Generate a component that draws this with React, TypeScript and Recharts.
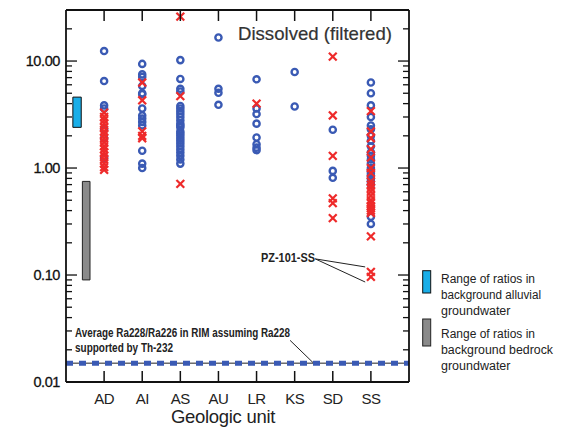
import React from 'react';
import { ScatterChart, Scatter, XAxis, YAxis, ReferenceLine, ReferenceArea } from 'recharts';

const categories = ['AD', 'AI', 'AS', 'AU', 'LR', 'KS', 'SD', 'SS'];
const categoryTicks = [1, 2, 3, 4, 5, 6, 7, 8];

// Blue circles per geologic unit
const circleAD = [12.4, 6.5, 3.85, 3.6, 2.3, 1.9, 1.25];
const circleAI = [9.4, 7.5, 7.1, 5.85, 5.0, 4.9, 3.6, 3.1, 2.9, 2.7, 2.5, 1.45, 1.1, 1.0];
const circleAS = [10.2, 6.8, 5.5, 5.2, 3.8, 3.6, 3.4, 3.2, 3.0, 2.8, 2.6, 2.5, 2.4, 2.2, 2.1, 2.0, 1.9, 1.8, 1.7, 1.6, 1.5, 1.4, 1.3, 1.2, 1.1];
const circleAU = [16.6, 5.5, 5.05, 3.9];
const circleLR = [6.75, 3.6, 3.2, 2.6, 1.93, 1.67, 1.55, 1.47];
const circleKS = [7.9, 3.76];
const circleSD = [2.28, 0.94, 0.81];
const circleSS = [6.3, 5.0, 3.85, 3.0, 2.5, 2.3, 2.0, 1.8, 1.6, 1.4, 1.3, 1.2, 1.1, 1.0, 0.95, 0.9, 0.85, 0.8, 0.75, 0.7, 0.35, 0.3];

// Red crosses per geologic unit
const crossAD = [3.3, 3.0, 2.8, 2.6, 2.4, 2.2, 2.05, 1.9, 1.75, 1.6, 1.5, 1.4, 1.3, 1.2, 1.1, 1.02, 0.96];
const crossAI = [6.3, 4.3, 2.2, 2.0, 1.9];
const crossAS = [26, 4.7, 0.71];
const crossAU: number[] = [];
const crossLR = [4.0];
const crossKS: number[] = [];
const crossSD = [11, 3.1, 1.3, 0.52, 0.47, 0.34];
const crossSS = [3.4, 2.2, 1.9, 1.5, 1.25, 1.0, 0.9, 0.75, 0.7, 0.65, 0.6, 0.55, 0.5, 0.47, 0.44, 0.42, 0.4, 0.38, 0.23, 0.107, 0.096];

const circleGroups = [circleAD, circleAI, circleAS, circleAU, circleLR, circleKS, circleSD, circleSS];
const crossGroups = [crossAD, crossAI, crossAS, crossAU, crossLR, crossKS, crossSD, crossSS];

const alluvialRange = [2.4, 4.6];
const bedrockRange = [0.09, 0.75];
const rimAverage = 0.015;

const yMajorTicks = [0.01, 0.1, 1, 10];
const yTickLabels = ['0.01', '0.10', '1.00', '10.00'];
const yMinorTicks = [0.02, 0.03, 0.04, 0.05, 0.06, 0.07, 0.08, 0.09, 0.2, 0.3, 0.4, 0.5, 0.6, 0.7, 0.8, 0.9, 2, 3, 4, 5, 6, 7, 8, 9, 20];
const yAllTicks = [...yMajorTicks, ...yMinorTicks].sort((a, b) => a - b);

const circleData = circleGroups.flatMap((vals, i) => vals.map((v) => ({ x: categoryTicks[i], y: v })));
const crossData = crossGroups.flatMap((vals, i) => vals.map((v) => ({ x: categoryTicks[i], y: v })));

const BLUE = '#3a5ab4';
const RED = '#ee2a2a';
const FONT = '"Liberation Sans", Arial, sans-serif';

const CircleMark = (props: any) => {
  const { cx, cy } = props;
  if (cx == null || cy == null) return null;
  return <circle cx={cx} cy={cy} r={3.1} fill="none" stroke={BLUE} strokeWidth={2.4} />;
};

const CrossMark = (props: any) => {
  const { cx, cy } = props;
  if (cx == null || cy == null) return null;
  const s = 3.9;
  return (
    <g stroke={RED} strokeWidth={2.2}>
      <line x1={cx - s} y1={cy - s} x2={cx + s} y2={cy + s} />
      <line x1={cx - s} y1={cy + s} x2={cx + s} y2={cy - s} />
    </g>
  );
};

const LeftTick = (props: any) => {
  const { x, y, payload } = props;
  const idx = yMajorTicks.indexOf(payload.value);
  const major = idx >= 0;
  return (
    <g>
      <line x1={x} x2={x + (major ? 11 : 6)} y1={y} y2={y} stroke="#111" strokeWidth={1.3} />
      {major && (
        <text x={x - 6} y={y} dy={5} textAnchor="end" fontSize={14.5} fontFamily={FONT} fill="#111" stroke="#111" strokeWidth={0.3} letterSpacing={-0.4}>
          {yTickLabels[idx]}
        </text>
      )}
    </g>
  );
};

const RightTick = (props: any) => {
  const { x, y, payload } = props;
  const major = yMajorTicks.indexOf(payload.value) >= 0;
  return <line x1={x - (major ? 11 : 6)} x2={x} y1={y} y2={y} stroke="#111" strokeWidth={1.3} />;
};

const BottomTick = (props: any) => {
  const { x, y, payload } = props;
  return (
    <g>
      <line x1={x} x2={x} y1={y - 11} y2={y} stroke="#111" strokeWidth={1.5} />
      <text x={x} y={y + 22} textAnchor="middle" fontSize={15} fontFamily={FONT} fill="#222" letterSpacing={-0.5}>
        {categories[payload.value - 1]}
      </text>
    </g>
  );
};

const TopTick = (props: any) => {
  const { x, y } = props;
  return <line x1={x} x2={x} y1={y} y2={y + 11} stroke="#111" strokeWidth={1.5} />;
};

export default function App() {
  return (
    <div style={{ position: 'absolute', left: 0, top: 0, width: 577, height: 429, background: '#fff' }}>
      <ScatterChart width={577} height={429} margin={{ top: 0, right: 158, bottom: 0, left: 0 }}>
        <XAxis
          xAxisId="b"
          dataKey="x"
          type="number"
          domain={[0, 9]}
          allowDataOverflow
          ticks={categoryTicks}
          interval={0}
          height={47}
          tickSize={0}
          tickMargin={0}
          tickLine={false}
          axisLine={{ stroke: '#111', strokeWidth: 1.8 }}
          tick={<BottomTick />}
        />
        <XAxis
          xAxisId="t"
          dataKey="x"
          type="number"
          orientation="top"
          domain={[0, 9]}
          allowDataOverflow
          ticks={categoryTicks}
          interval={0}
          height={10}
          tickSize={0}
          tickMargin={0}
          tickLine={false}
          axisLine={{ stroke: '#111', strokeWidth: 1.8 }}
          tick={<TopTick />}
        />
        <YAxis
          yAxisId="l"
          dataKey="y"
          type="number"
          scale="log"
          domain={[0.01, 30]}
          allowDataOverflow
          ticks={yAllTicks}
          interval={0}
          width={66}
          tickSize={0}
          tickMargin={0}
          tickLine={false}
          axisLine={{ stroke: '#111', strokeWidth: 1.8 }}
          tick={<LeftTick />}
        />
        <YAxis
          yAxisId="r"
          dataKey="y"
          type="number"
          orientation="right"
          scale="log"
          domain={[0.01, 30]}
          allowDataOverflow
          ticks={yAllTicks}
          interval={0}
          width={10}
          tickSize={0}
          tickMargin={0}
          tickLine={false}
          axisLine={{ stroke: '#111', strokeWidth: 1.8 }}
          tick={<RightTick />}
        />
        <ReferenceArea
          xAxisId="b"
          yAxisId="l"
          x1={0.18}
          x2={0.4}
          y1={alluvialRange[0]}
          y2={alluvialRange[1]}
          fill="#19aee8"
          fillOpacity={1}
          stroke="#111"
          strokeWidth={1}
        />
        <ReferenceArea
          xAxisId="b"
          yAxisId="l"
          x1={0.43}
          x2={0.63}
          y1={bedrockRange[0]}
          y2={bedrockRange[1]}
          fill="#8a8a8a"
          fillOpacity={1}
          stroke="#222"
          strokeWidth={1}
        />
        <ReferenceLine xAxisId="b" yAxisId="l" y={rimAverage} stroke="#222" strokeWidth={1} />
        <ReferenceLine xAxisId="b" yAxisId="l" y={rimAverage} stroke={BLUE} strokeWidth={5} strokeDasharray="7 6" />
        <ReferenceLine
          xAxisId="b"
          yAxisId="l"
          segment={[{ x: 5.88, y: 0.0245 }, { x: 6.48, y: 0.0152 }]}
          stroke="#222"
          strokeWidth={1}
        />
        <ReferenceLine
          xAxisId="b"
          yAxisId="l"
          segment={[{ x: 6.54, y: 0.1415 }, { x: 7.85, y: 0.119 }]}
          stroke="#222"
          strokeWidth={1}
        />
        <ReferenceLine
          xAxisId="b"
          yAxisId="l"
          segment={[{ x: 6.54, y: 0.1415 }, { x: 7.85, y: 0.086 }]}
          stroke="#222"
          strokeWidth={1}
        />
        <Scatter xAxisId="b" yAxisId="l" data={circleData} shape={<CircleMark />} isAnimationActive={false} />
        <Scatter xAxisId="b" yAxisId="l" data={crossData} shape={<CrossMark />} isAnimationActive={false} />
      </ScatterChart>
      <svg width={577} height={429} style={{ position: 'absolute', left: 0, top: 0, pointerEvents: 'none' }}>
        <text x={238} y={40} fontSize={18.5} fontFamily={FONT} fill="#333" stroke="#333" strokeWidth={0.2} textLength={154} lengthAdjust="spacingAndGlyphs">
          Dissolved (filtered)
        </text>
        <text x={261} y={262} fontSize={12.5} fontFamily={FONT} fontWeight="bold" fill="#222" textLength={54} lengthAdjust="spacingAndGlyphs">
          PZ-101-SS
        </text>
        <text x={75} y={337} fontSize={12} fontFamily={FONT} fontWeight="bold" fill="#222" textLength={215} lengthAdjust="spacingAndGlyphs">
          Average Ra228/Ra226 in RIM assuming Ra228
        </text>
        <text x={75} y={352} fontSize={12} fontFamily={FONT} fontWeight="bold" fill="#222" textLength={98} lengthAdjust="spacingAndGlyphs">
          supported by Th-232
        </text>
        <text x={223} y={423} textAnchor="middle" fontSize={18.5} fontFamily={FONT} fill="#222" letterSpacing={-0.3}>
          Geologic unit
        </text>
        <rect x={422.7} y={270.7} width={8} height={22.3} fill="#19aee8" stroke="#111" strokeWidth={1} />
        <rect x={422.7} y={319} width={8} height={27} fill="#8a8a8a" stroke="#222" strokeWidth={1} />
        <g fontSize={12.5} fontFamily={FONT} fill="#222">
          <text x={441} y={283} textLength={94} lengthAdjust="spacingAndGlyphs">Range of ratios in</text>
          <text x={441} y={299} textLength={100} lengthAdjust="spacingAndGlyphs">background alluvial</text>
          <text x={441} y={315}>groundwater</text>
          <text x={441} y={338} textLength={94} lengthAdjust="spacingAndGlyphs">Range of ratios in</text>
          <text x={441} y={354} textLength={112} lengthAdjust="spacingAndGlyphs">background bedrock</text>
          <text x={441} y={370}>groundwater</text>
        </g>
      </svg>
    </div>
  );
}
